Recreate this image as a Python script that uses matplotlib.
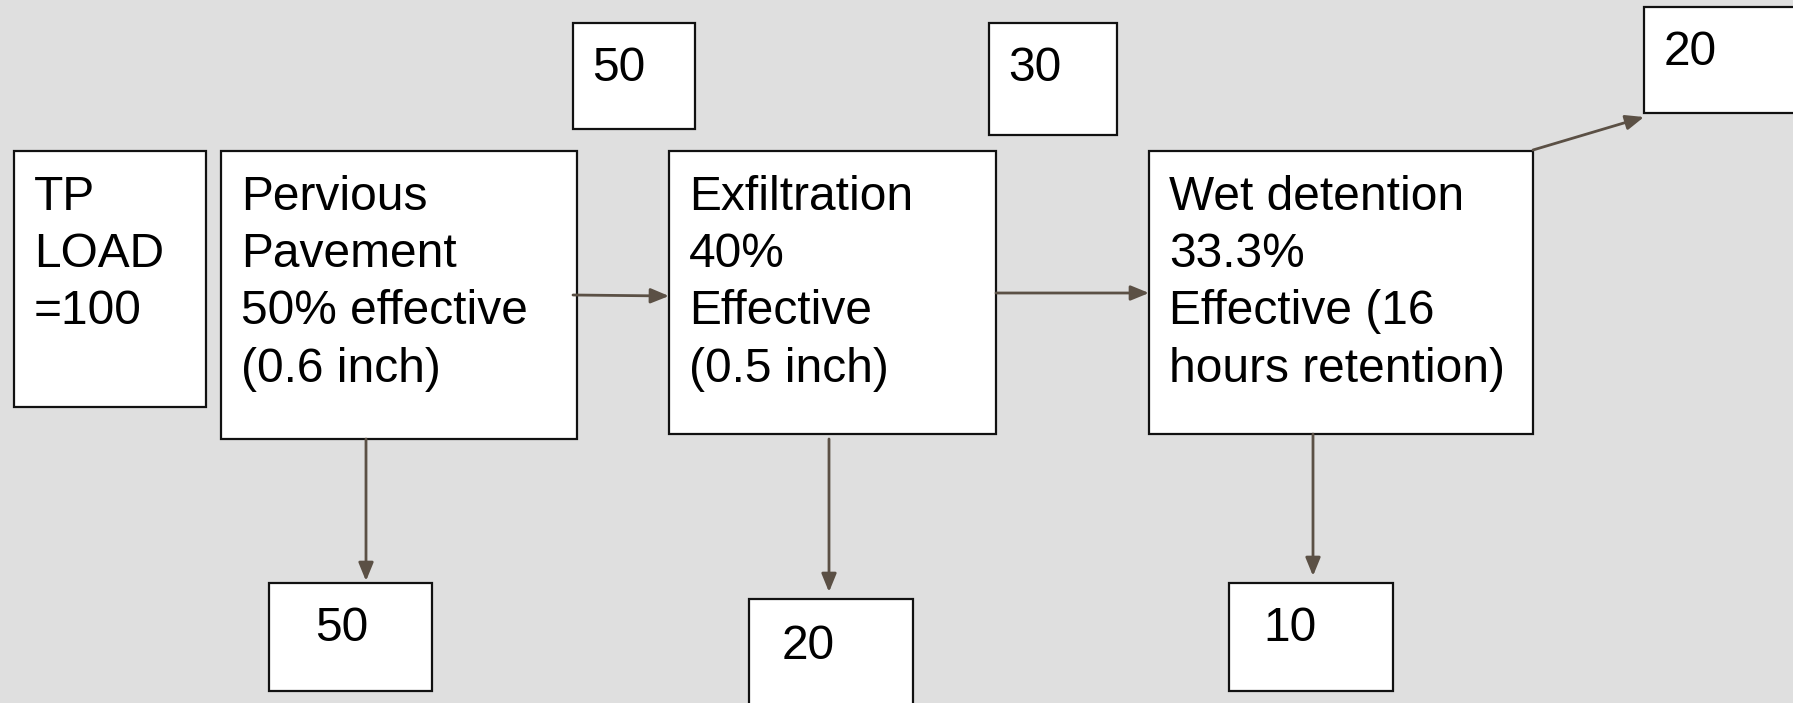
import matplotlib.pyplot as plt
from matplotlib.patches import Rectangle

# box labels (one string per line)
main_labels = [
    ["TP", "LOAD", "=100"],
    ["Pervious", "Pavement", "50% effective", "(0.6 inch)"],
    ["Exfiltration", "40%", "Effective", "(0.5 inch)"],
    ["Wet detention", "33.3%", "Effective (16", "hours retention)"],
]
top_values = ["50", "30", "20"]
bottom_values = ["50", "20", "10"]

# box geometry in pixels: x0, y0, x1, y1 (y downwards)
main_boxes = [(14, 151, 206, 407), (221, 151, 577, 439),
              (669, 151, 996, 434), (1149, 151, 1533, 434)]
top_boxes = [(573, 23, 695, 129), (989, 23, 1117, 135), (1644, 7, 1800, 113)]
bottom_boxes = [(269, 583, 432, 691), (749, 599, 913, 710), (1229, 583, 1393, 691)]

# arrows: (x_from, y_from, x_to, y_to)
arrows = [(573, 295, 669, 296), (996, 293, 1149, 293), (1533, 150, 1644, 117),
          (366, 439, 366, 581), (829, 439, 829, 592), (1313, 434, 1313, 576)]

W, H = 1793, 703
fig = plt.figure(figsize=(W / 100, H / 100), dpi=100)
fig.patch.set_facecolor("#dfdfdf")
ax = fig.add_axes([0, 0, 1, 1])
ax.set_xlim(0, W)
ax.set_ylim(H, 0)
ax.axis("off")

FONT = "Liberation Sans"
FS = 34.5
LINE = 57.2
ARROW_C = "#5b5045"


def box(x0, y0, x1, y1):
    ax.add_patch(Rectangle((x0, y0), x1 - x0, y1 - y0, facecolor="white",
                           edgecolor="#111111", linewidth=1.6, zorder=2))


for (x0, y0, x1, y1), lines in zip(main_boxes, main_labels):
    box(x0, y0, x1, y1)
    for i, s in enumerate(lines):
        ax.text(x0 + 20, 210 + i * LINE, s, fontsize=FS, family=FONT,
                va="baseline", ha="left", zorder=3)

top_text = [(592, 81), (1008, 81), (1664, 65)]
for (x0, y0, x1, y1), v, (tx, ty) in zip(top_boxes, top_values, top_text):
    box(x0, y0, x1, y1)
    ax.text(tx, ty, v, fontsize=FS, family=FONT, va="baseline", zorder=3)

bottom_text = [(315, 641), (782, 659), (1263, 641)]
for (x0, y0, x1, y1), v, (tx, ty) in zip(bottom_boxes, bottom_values, bottom_text):
    box(x0, y0, x1, y1)
    ax.text(tx, ty, v, fontsize=FS, family=FONT, va="baseline", zorder=3)

for x0, y0, x1, y1 in arrows:
    ax.annotate("", xy=(x1, y1), xytext=(x0, y0), zorder=4,
                arrowprops=dict(arrowstyle="-|>,head_length=1.1,head_width=0.45",
                                color=ARROW_C, lw=2, shrinkA=0, shrinkB=0))

fig.savefig("out.png", dpi=100, facecolor=fig.get_facecolor())
